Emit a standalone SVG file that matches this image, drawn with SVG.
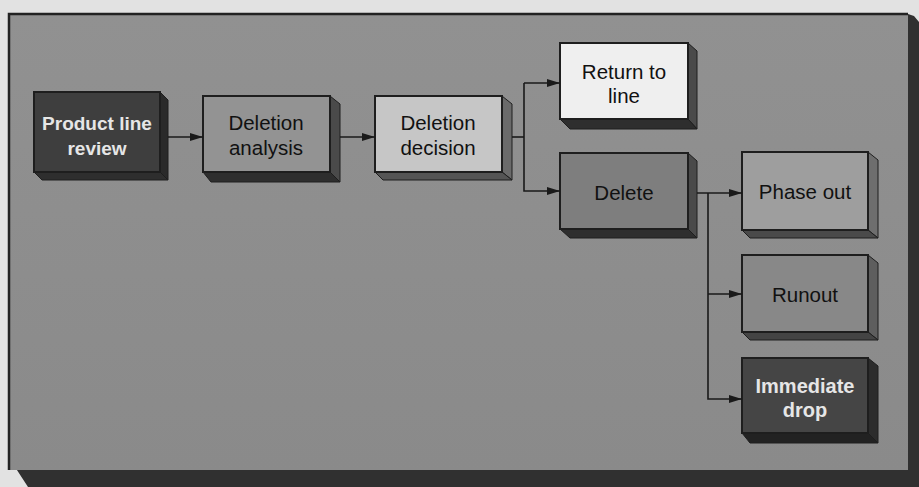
<svg xmlns="http://www.w3.org/2000/svg" width="919" height="487" viewBox="0 0 919 487">
  <defs>
    <marker id="arrow" viewBox="0 0 13 8" refX="13" refY="4" markerWidth="13" markerHeight="8" markerUnits="userSpaceOnUse" orient="auto">
      <path d="M0,0 L13,4 L0,8 Z" fill="#1a1a1a"/>
    </marker>
    <linearGradient id="panelFill" x1="0" y1="0" x2="0" y2="1">
      <stop offset="0" stop-color="#919191"/>
      <stop offset="1" stop-color="#8a8a8a"/>
    </linearGradient>
  </defs>
  <style>
    .front { stroke: #1e1e1e; stroke-width: 2; }
    .side { fill: #4a4a4a; stroke: #1e1e1e; stroke-width: 1; }
    .bottom { fill: #2e2e2e; stroke: #1e1e1e; stroke-width: 1; }
    .label { font-family: "Liberation Sans", Arial, sans-serif; font-size: 20.5px; fill: #111; text-anchor: middle; }
    .label-light { font-family: "Liberation Sans", Arial, sans-serif; font-size: 19px; font-weight: bold; fill: #e6e6e6; text-anchor: middle; }
    .conn { fill: none; stroke: #1a1a1a; stroke-width: 1.6; }
  </style>

  <!-- page and panel with drop shadow -->
  <rect x="0" y="0" width="919" height="487" fill="#e2e2e2"/>
  <path d="M908,14 L914,16 L919,22 L919,487 L28,487 L15,467 L908,470 Z" fill="#303030"/>
  <rect x="9" y="14" width="899" height="456" fill="url(#panelFill)"/>
  <path d="M9,470 L9,14 L908,14" fill="none" stroke="#222" stroke-width="2.5"/>

  <!-- Product line review -->
  <g id="node-product-line-review">
    <path class="side" d="M160,92 L168,100 L168,180 L160,172 Z" style="fill:#2a2a2a"/>
    <path class="bottom" d="M34,172 L160,172 L168,180 L42,180 Z"/>
    <rect class="front" x="34" y="92" width="126" height="80" fill="#3e3e3e"/>
    <text class="label-light" x="97" y="130">Product line</text>
    <text class="label-light" x="97" y="155">review</text>
  </g>

  <!-- Deletion analysis -->
  <g id="node-deletion-analysis">
    <path class="side" d="M330,96 L340,104 L340,182 L330,172 Z"/>
    <path class="bottom" d="M203,172 L330,172 L340,182 L211,182 Z"/>
    <rect class="front" x="203" y="96" width="127" height="76" fill="#939393"/>
    <text class="label" x="266" y="130">Deletion</text>
    <text class="label" x="266" y="155">analysis</text>
  </g>

  <!-- Deletion decision -->
  <g id="node-deletion-decision">
    <path class="side" d="M502,96 L512,104 L512,180 L502,172 Z" style="fill:#6a6a6a"/>
    <path class="bottom" d="M375,172 L502,172 L512,180 L383,180 Z" style="fill:#555"/>
    <rect class="front" x="375" y="96" width="127" height="76" fill="#c6c6c6"/>
    <text class="label" x="438" y="130">Deletion</text>
    <text class="label" x="438" y="155">decision</text>
  </g>

  <!-- Return to line -->
  <g id="node-return-to-line">
    <path class="side" d="M688,43 L697,51 L697,129 L688,119 Z" style="fill:#4a4a4a"/>
    <path class="bottom" d="M560,119 L688,119 L697,129 L570,129 Z"/>
    <rect class="front" x="560" y="43" width="128" height="76" fill="#efefef"/>
    <text class="label" x="624" y="79">Return to</text>
    <text class="label" x="624" y="103">line</text>
  </g>

  <!-- Delete -->
  <g id="node-delete">
    <path class="side" d="M688,153 L697,161 L697,238 L688,229 Z"/>
    <path class="bottom" d="M560,229 L688,229 L697,238 L570,238 Z"/>
    <rect class="front" x="560" y="153" width="128" height="76" fill="#7e7e7e"/>
    <text class="label" x="624" y="200">Delete</text>
  </g>

  <!-- Phase out -->
  <g id="node-phase-out">
    <path class="side" d="M868,152 L878,160 L878,238 L868,230 Z" style="fill:#6e6e6e"/>
    <path class="bottom" d="M742,230 L868,230 L878,238 L750,238 Z" style="fill:#4a4a4a"/>
    <rect class="front" x="742" y="152" width="126" height="78" fill="#9e9e9e"/>
    <text class="label" x="805" y="199">Phase out</text>
  </g>

  <!-- Runout -->
  <g id="node-runout">
    <path class="side" d="M868,255 L878,263 L878,340 L868,332 Z" style="fill:#5e5e5e"/>
    <path class="bottom" d="M742,332 L868,332 L878,340 L750,340 Z" style="fill:#444"/>
    <rect class="front" x="742" y="255" width="126" height="77" fill="#888888"/>
    <text class="label" x="805" y="302">Runout</text>
  </g>

  <!-- Immediate drop -->
  <g id="node-immediate-drop">
    <path class="side" d="M868,358 L878,366 L878,443 L868,433 Z" style="fill:#2c2c2c"/>
    <path class="bottom" d="M742,433 L868,433 L878,443 L750,443 Z" style="fill:#222"/>
    <rect class="front" x="742" y="358" width="126" height="75" fill="#454545"/>
    <text class="label-light" x="805" y="393" style="font-size:20px">Immediate</text>
    <text class="label-light" x="805" y="417" style="font-size:20px">drop</text>
  </g>

  <!-- connectors -->
  <g id="connectors">
    <line class="conn" x1="168" y1="137" x2="203" y2="137" marker-end="url(#arrow)"/>
    <line class="conn" x1="340" y1="137" x2="375" y2="137" marker-end="url(#arrow)"/>
    <line class="conn" x1="512" y1="137" x2="524" y2="137"/>
    <path class="conn" d="M524,83 L524,191 L560,191" marker-end="url(#arrow)"/>
    <line class="conn" x1="524" y1="83" x2="560" y2="83" marker-end="url(#arrow)"/>
    <line class="conn" x1="697" y1="193" x2="742" y2="193" marker-end="url(#arrow)"/>
    <path class="conn" d="M708,193 L708,399 L742,399" marker-end="url(#arrow)"/>
    <line class="conn" x1="708" y1="294" x2="742" y2="294" marker-end="url(#arrow)"/>
  </g>
</svg>
